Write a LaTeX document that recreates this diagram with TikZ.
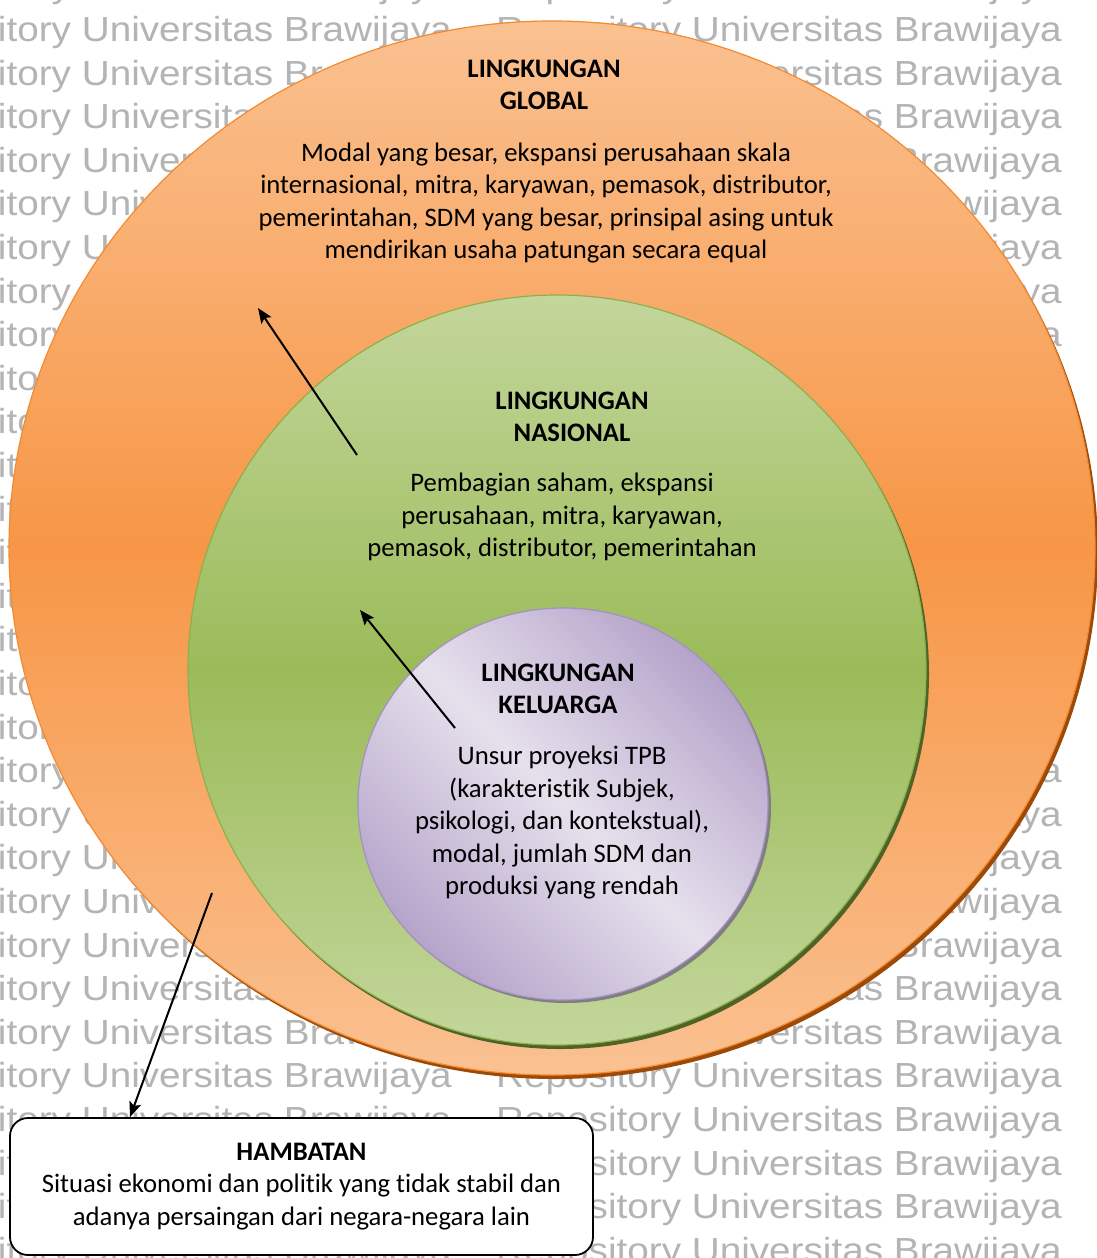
\documentclass[tikz,border=0pt]{standalone}
\usepackage{fontspec}
\setmainfont{Carlito}[Ligatures=CommonOff]
\newfontfamily\wmfont{Liberation Sans}
\usetikzlibrary{arrows.meta,shapes.geometric,shadows}

\definecolor{orLight}{HTML}{FAC191}
\definecolor{orMid}{HTML}{F79646}
\definecolor{orEdge}{HTML}{F48A30}
\definecolor{orShadow}{HTML}{9C4A08}
\definecolor{grLight}{HTML}{C3D69B}
\definecolor{grMid}{HTML}{9BBB59}
\definecolor{grEdge}{HTML}{8DB04C}
\definecolor{grShadow}{HTML}{4F6228}
\definecolor{puDark}{HTML}{B5A4CA}
\definecolor{puLight}{HTML}{E6E0EC}
\definecolor{puEdge}{HTML}{A390C4}
\definecolor{puShadow}{HTML}{7F7F7F}
\definecolor{wmGray}{HTML}{B4B4B4}

\tikzset{
  ring/.style={ellipse, inner sep=0pt, line width=1.2pt},
  ttl/.style={font=\fontsize{26.7}{32.5}\selectfont\bfseries, align=center, inner sep=0pt},
  body/.style={font=\fontsize{26.7}{32.5}\selectfont, align=center, inner sep=0pt},
  wmark/.style={font=\fontsize{38.7}{40}\selectfont\wmfont, text=wmGray, inner sep=0pt,
    anchor=base east, yscale=0.9},
  flow/.style={line width=2pt, -{Stealth[length=15pt, width=12pt, inset=3pt]}},
  notebox/.style={draw=black, line width=1.8pt, rounded corners=18pt, fill=white,
    minimum width=583pt, minimum height=137pt, align=center, inner sep=0pt,
    font=\fontsize{26.7}{32.5}\selectfont},
}

\begin{document}
\begin{tikzpicture}[x=1pt, y=-1pt]
\useasboundingbox (0,0) rectangle (1097,1258);
\fill[white] (0,0) rectangle (1097,1258);

% repository watermark, two columns of repeated lines
\foreach \k in {-1,...,28} {
  \node[wmark] (wmL\k) at (452, 41.5+43.6*\k) {Repository Universitas Brawijaya};
  \node[wmark] (wmR\k) at (1062, 41.5+43.6*\k) {Repository Universitas Brawijaya};
}

% outer ring: global environment
\fill[orShadow] (555,552) ellipse [x radius=543, y radius=527];
\node[ring, draw=orEdge, top color=orLight, bottom color=orLight, middle color=orMid,
      minimum width=1086pt, minimum height=1054pt] (global) at (552,548) {};

% middle ring: national environment
\fill[grShadow] (560,674) ellipse [x radius=369, y radius=375];
\node[ring, draw=grEdge, top color=grLight, bottom color=grLight, middle color=grMid,
      minimum width=738pt, minimum height=750pt] (nasional) at (557,670) {};

% inner ring: family environment
\fill[puShadow] (566,807) ellipse [x radius=205, y radius=196];
\node[ring, draw=puEdge, top color=puDark, bottom color=puDark, middle color=puLight,
      shading angle=-45, minimum width=410pt, minimum height=392pt] (keluarga) at (563,804) {};

% labels
\node[ttl] (tGlobal) at (544,85) {LINGKUNGAN\\GLOBAL};
\node[body] (bGlobal) at (546,203) {Modal yang besar, ekspansi perusahaan skala\\
  internasional, mitra, karyawan, pemasok, distributor,\\
  pemerintahan, SDM yang besar, prinsipal asing untuk\\
  mendirikan usaha patungan secara equal};

\node[ttl] (tNas) at (572,417) {LINGKUNGAN\\NASIONAL};
\node[body] (bNas) at (562,517) {Pembagian saham, ekspansi\\
  perusahaan, mitra, karyawan,\\
  pemasok, distributor, pemerintahan};

\node[ttl] (tKel) at (558,689) {LINGKUNGAN\\KELUARGA};
\node[body] (bKel) at (562,823) {Unsur proyeksi TPB\\
  (karakteristik Subjek,\\
  psikologi, dan kontekstual),\\
  modal, jumlah SDM dan\\
  produksi yang rendah};

% obstacle box
\node[notebox] (hambatan) at (301.5,1186.5) {\textbf{HAMBATAN}\\
  Situasi ekonomi dan politik yang tidak stabil dan\\
  adanya persaingan dari negara-negara lain};

% arrows
\coordinate (a1s) at (357,455);
\coordinate (a1e) at (258,308);
\coordinate (a2s) at (455,728);
\coordinate (a2e) at (360,610);
\coordinate (a3s) at (212,893);
\draw[flow] (a1s) -- (a1e);
\draw[flow] (a2s) -- (a2e);
\draw[flow] (a3s) -- (130,0 |- hambatan.north);
\end{tikzpicture}
\end{document}
